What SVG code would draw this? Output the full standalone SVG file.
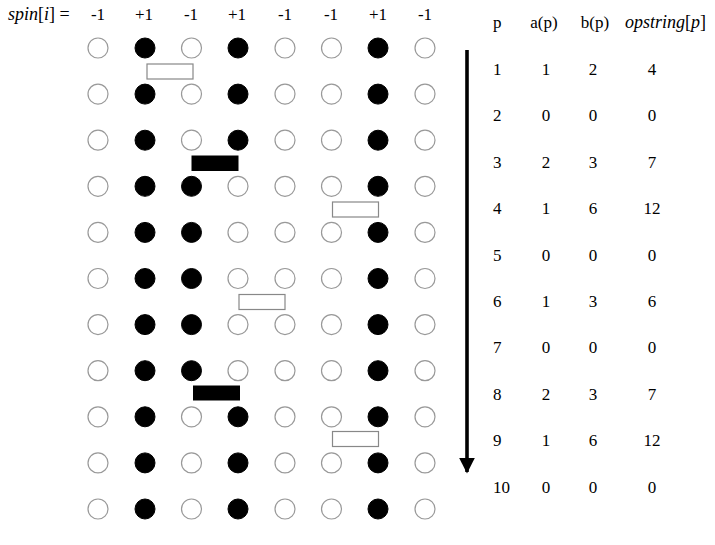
<svg xmlns="http://www.w3.org/2000/svg" width="715" height="545" viewBox="0 0 715 545">
<style>
text{font-family:"Liberation Serif","Times New Roman",serif;font-size:17px;fill:#000}
.c{text-anchor:middle}
.it{font-style:italic}
.big{font-size:18px}
.up{fill:#000;stroke:#000;stroke-width:1}
.dn{fill:#fff;stroke:#999;stroke-width:1.2}
.opd{fill:#fff;stroke:#888;stroke-width:1.2}
.opo{fill:#000;stroke:#000;stroke-width:1}
</style>
<defs>
<circle id="u" r="10" class="up"/>
<circle id="d" r="10" class="dn"/>
<marker id="ah" viewBox="0 0 10 10" refX="9" refY="5" markerWidth="4.4" markerHeight="4.4" orient="auto" markerUnits="strokeWidth"><path d="M0,0L10,5L0,10Z" fill="#000"/></marker>
</defs>
<rect width="715" height="545" fill="#fff"/>
<g id="spin-header">
<text class="big" x="8" y="20"><tspan class="it">spin</tspan>[<tspan class="it">i</tspan>] =</text>
<text class="c" x="98" y="20">-1</text>
<text class="c" x="144" y="20">+1</text>
<text class="c" x="191" y="20">-1</text>
<text class="c" x="237" y="20">+1</text>
<text class="c" x="285" y="20">-1</text>
<text class="c" x="331" y="20">-1</text>
<text class="c" x="378" y="20">+1</text>
<text class="c" x="425" y="20">-1</text>
</g>
<g id="row1" transform="translate(0,48)"><use href="#d" x="98"/><use href="#u" x="145"/><use href="#d" x="191.5"/><use href="#u" x="238"/><use href="#d" x="285"/><use href="#d" x="331.5"/><use href="#u" x="378"/><use href="#d" x="425"/></g>
<g id="row2" transform="translate(0,94.1)"><use href="#d" x="98"/><use href="#u" x="145"/><use href="#d" x="191.5"/><use href="#u" x="238"/><use href="#d" x="285"/><use href="#d" x="331.5"/><use href="#u" x="378"/><use href="#d" x="425"/></g>
<g id="row3" transform="translate(0,140.2)"><use href="#d" x="98"/><use href="#u" x="145"/><use href="#d" x="191.5"/><use href="#u" x="238"/><use href="#d" x="285"/><use href="#d" x="331.5"/><use href="#u" x="378"/><use href="#d" x="425"/></g>
<g id="row4" transform="translate(0,186.3)"><use href="#d" x="98"/><use href="#u" x="145"/><use href="#u" x="191.5"/><use href="#d" x="238"/><use href="#d" x="285"/><use href="#d" x="331.5"/><use href="#u" x="378"/><use href="#d" x="425"/></g>
<g id="row5" transform="translate(0,232.4)"><use href="#d" x="98"/><use href="#u" x="145"/><use href="#u" x="191.5"/><use href="#d" x="238"/><use href="#d" x="285"/><use href="#d" x="331.5"/><use href="#u" x="378"/><use href="#d" x="425"/></g>
<g id="row6" transform="translate(0,278.5)"><use href="#d" x="98"/><use href="#u" x="145"/><use href="#u" x="191.5"/><use href="#d" x="238"/><use href="#d" x="285"/><use href="#d" x="331.5"/><use href="#u" x="378"/><use href="#d" x="425"/></g>
<g id="row7" transform="translate(0,324.6)"><use href="#d" x="98"/><use href="#u" x="145"/><use href="#u" x="191.5"/><use href="#d" x="238"/><use href="#d" x="285"/><use href="#d" x="331.5"/><use href="#u" x="378"/><use href="#d" x="425"/></g>
<g id="row8" transform="translate(0,370.7)"><use href="#d" x="98"/><use href="#u" x="145"/><use href="#u" x="191.5"/><use href="#d" x="238"/><use href="#d" x="285"/><use href="#d" x="331.5"/><use href="#u" x="378"/><use href="#d" x="425"/></g>
<g id="row9" transform="translate(0,416.8)"><use href="#d" x="98"/><use href="#u" x="145"/><use href="#d" x="191.5"/><use href="#u" x="238"/><use href="#d" x="285"/><use href="#d" x="331.5"/><use href="#u" x="378"/><use href="#d" x="425"/></g>
<g id="row10" transform="translate(0,462.9)"><use href="#d" x="98"/><use href="#u" x="145"/><use href="#d" x="191.5"/><use href="#u" x="238"/><use href="#d" x="285"/><use href="#d" x="331.5"/><use href="#u" x="378"/><use href="#d" x="425"/></g>
<g id="row11" transform="translate(0,509)"><use href="#d" x="98"/><use href="#u" x="145"/><use href="#d" x="191.5"/><use href="#u" x="238"/><use href="#d" x="285"/><use href="#d" x="331.5"/><use href="#u" x="378"/><use href="#d" x="425"/></g>
<g id="op1"><rect class="opd" x="147" y="64" width="46" height="15"/></g>
<g id="op3"><rect class="opo" x="192" y="156" width="46" height="14.5"/></g>
<g id="op4"><rect class="opd" x="332.5" y="202" width="46" height="15"/></g>
<g id="op6"><rect class="opd" x="239" y="294.5" width="46" height="15"/></g>
<g id="op8"><rect class="opo" x="193.5" y="386" width="46" height="14"/></g>
<g id="op9"><rect class="opd" x="332.5" y="431.5" width="46" height="15"/></g>
<g id="connectors">
<line x1="467" y1="50" x2="467" y2="472" stroke="#000" stroke-width="3.6" marker-end="url(#ah)"/>
</g>
<g id="table">
<text x="493" y="28">p</text>
<text class="c" x="544" y="28">a(p)</text>
<text class="c" x="595" y="28">b(p)</text>
<text class="c big" x="665.5" y="28"><tspan class="it">opstring</tspan>[<tspan class="it">p</tspan>]</text>
<text x="493" y="75">1</text><text class="c" x="546" y="75">1</text><text class="c" x="593" y="75">2</text><text class="c" x="652" y="75">4</text>
<text x="493" y="121.4">2</text><text class="c" x="546" y="121.4">0</text><text class="c" x="593" y="121.4">0</text><text class="c" x="652" y="121.4">0</text>
<text x="493" y="167.8">3</text><text class="c" x="546" y="167.8">2</text><text class="c" x="593" y="167.8">3</text><text class="c" x="652" y="167.8">7</text>
<text x="493" y="214.2">4</text><text class="c" x="546" y="214.2">1</text><text class="c" x="593" y="214.2">6</text><text class="c" x="652" y="214.2">12</text>
<text x="493" y="260.6">5</text><text class="c" x="546" y="260.6">0</text><text class="c" x="593" y="260.6">0</text><text class="c" x="652" y="260.6">0</text>
<text x="493" y="307">6</text><text class="c" x="546" y="307">1</text><text class="c" x="593" y="307">3</text><text class="c" x="652" y="307">6</text>
<text x="493" y="353.4">7</text><text class="c" x="546" y="353.4">0</text><text class="c" x="593" y="353.4">0</text><text class="c" x="652" y="353.4">0</text>
<text x="493" y="399.8">8</text><text class="c" x="546" y="399.8">2</text><text class="c" x="593" y="399.8">3</text><text class="c" x="652" y="399.8">7</text>
<text x="493" y="446.2">9</text><text class="c" x="546" y="446.2">1</text><text class="c" x="593" y="446.2">6</text><text class="c" x="652" y="446.2">12</text>
<text x="493" y="492.6">10</text><text class="c" x="546" y="492.6">0</text><text class="c" x="593" y="492.6">0</text><text class="c" x="652" y="492.6">0</text>
</g>
</svg>
